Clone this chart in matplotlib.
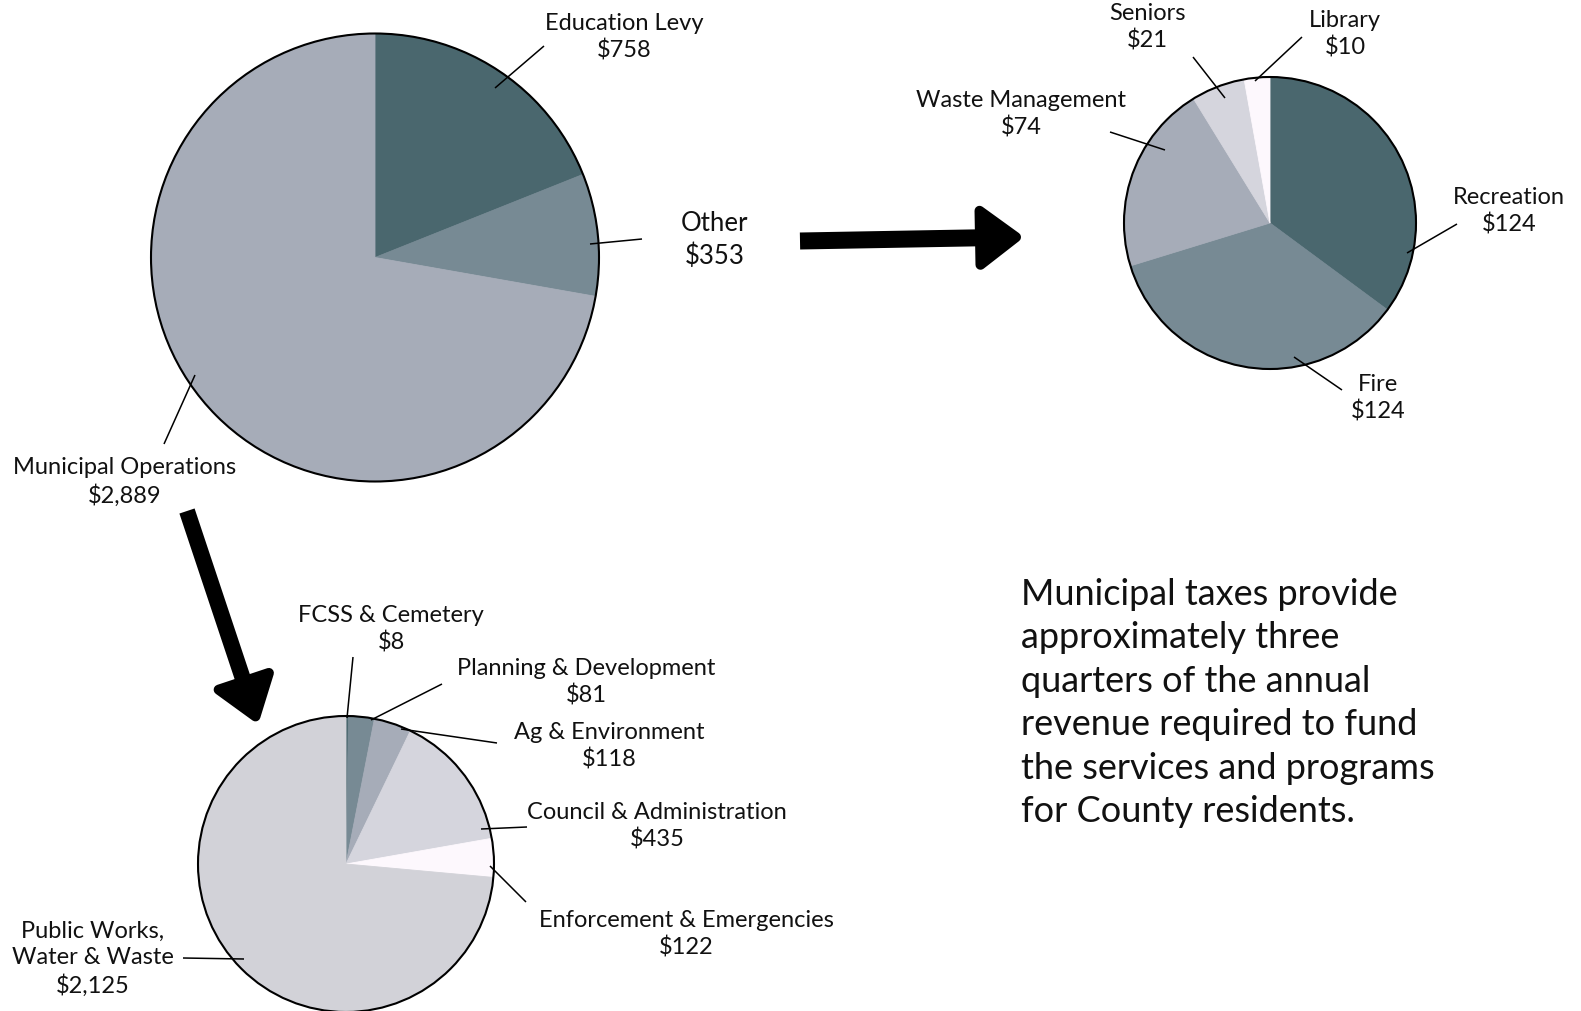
import matplotlib
matplotlib.use("Agg")
import matplotlib.pyplot as plt
from matplotlib.patches import Circle, Polygon
import numpy as np

W, H = 1581, 1011
FONT = ["Lato", "DejaVu Sans"]

# ---------------- data ----------------
main_labels = ["Education Levy", "Other", "Municipal Operations"]
main_values = [758, 353, 2889]

other_labels = ["Recreation", "Fire", "Waste Management", "Seniors", "Library"]
other_values = [124, 124, 74, 21, 10]

muni_labels = ["FCSS & Cemetery", "Planning & Development", "Ag & Environment",
               "Council & Administration", "Enforcement & Emergencies",
               "Public Works,\nWater & Waste"]
muni_values = [8, 81, 118, 435, 122, 2125]

note_text = ("Municipal taxes provide\napproximately three\nquarters of the annual\n"
             "revenue required to fund\nthe services and programs\nfor County residents.")

DARK, MID, LIGHT, LIGHTER, WHITE, PALE = "#4a676e", "#778a94", "#a6acb8", "#d5d5dd", "#fdf8fd", "#d2d2d8"
main_colors = [DARK, MID, LIGHT]
other_colors = [DARK, MID, LIGHT, LIGHTER, WHITE]
muni_colors = [DARK, MID, LIGHT, LIGHTER, WHITE, PALE]

fig = plt.figure(figsize=(W / 100, H / 100), dpi=100)
ax = fig.add_axes([0, 0, 1, 1])
ax.set_axis_off()


def Y(y):
    return H - y


def money(v):
    return "${:,}".format(v)


def draw_pie(values, colors, cx, cy, r):
    wedges, _ = ax.pie(values, colors=colors, startangle=90, counterclock=False,
                       center=(cx, Y(cy)), radius=r,
                       wedgeprops=dict(linewidth=0.6))
    for w in wedges:
        w.set_edgecolor(w.get_facecolor())
    ax.add_patch(Circle((cx, Y(cy)), r, fill=False, edgecolor="black", linewidth=1.5, zorder=5))


def label(text, x, y, size=17, ls=1.3):
    ax.text(x, Y(y), text, ha="center", va="center", multialignment="center",
            fontsize=size, family=FONT, color="#111111", linespacing=ls, zorder=6)


def leader(x1, y1, x2, y2):
    ax.plot([x1, x2], [Y(y1), Y(y2)], color="black", linewidth=1.1, solid_capstyle="butt", zorder=7)


def arrow(x0, y0, xt, yt, shaft_w, head_w, head_l):
    p0 = np.array([x0, Y(y0)], float)
    pt = np.array([xt, Y(yt)], float)
    d = pt - p0
    L = np.hypot(*d)
    u = d / L
    n = np.array([-u[1], u[0]])
    base = pt - u * head_l
    ax.plot([p0[0], base[0] + u[0] * 4], [p0[1], base[1] + u[1] * 4], color="black",
            linewidth=shaft_w * 0.72, solid_capstyle="butt", zorder=8)
    inset = 5
    tri = np.array([pt - u * inset * 1.6,
                    base + n * (head_w / 2 - inset) + u * inset * 0.8,
                    base - n * (head_w / 2 - inset) + u * inset * 0.8])
    ax.add_patch(Polygon(tri, closed=True, facecolor="black", edgecolor="black",
                         linewidth=inset * 2 * 0.72, joinstyle="round", zorder=8))


# ---------------- pies ----------------
draw_pie(main_values, main_colors, 375, 257.5, 224)
draw_pie(other_values, other_colors, 1270, 223, 146)
draw_pie(muni_values, muni_colors, 346, 864, 148)

# ---------------- main pie labels ----------------
label(f"{main_labels[0]}\n{money(main_values[0])}", 624, 37)
leader(544, 46, 495, 88)
label(f"{main_labels[1]}\n{money(main_values[1])}", 715, 240, size=18.5, ls=1.32)
leader(642, 239, 590, 244)
label(f"{main_labels[2]}\n{money(main_values[2])}", 125, 482)
leader(164, 444, 195, 375)

# ---------------- other pie labels ----------------
label(f"{other_labels[3]}\n{money(other_values[3])}", 1147, 27)
leader(1193, 57, 1225, 98)
label(f"{other_labels[4]}\n{money(other_values[4])}", 1345, 34)
leader(1302, 37, 1255, 81)
label(f"{other_labels[2]}\n{money(other_values[2])}", 1021, 114.5)
leader(1110, 132, 1165, 150)
label(f"{other_labels[0]}\n{money(other_values[0])}", 1509, 211.5)
leader(1457, 224, 1407, 253)
label(f"{other_labels[1]}\n{money(other_values[1])}", 1378, 398.5)
leader(1342, 390, 1294, 357)

# ---------------- municipal pie labels ----------------
label(f"{muni_labels[0]}\n{money(muni_values[0])}", 391, 629)
leader(353, 657, 347, 718)
label(f"{muni_labels[1]}\n{money(muni_values[1])}", 586, 682)
leader(442, 684, 371, 720)
label(f"{muni_labels[2]}\n{money(muni_values[2])}", 609, 746)
leader(497, 743, 401, 729)
label(f"{muni_labels[3]}\n{money(muni_values[3])}", 657, 826)
leader(527, 827, 481, 829)
label(f"{muni_labels[4]}\n{money(muni_values[4])}", 686, 934)
leader(526, 902, 490, 866)
label(f"{muni_labels[5]}\n{money(muni_values[5])}", 93, 959)
leader(183, 958, 244, 959)

# ---------------- arrows ----------------
arrow(800, 241, 1024, 237, 17, 64, 48)
arrow(187, 511, 258, 724, 16, 63, 49)

# ---------------- note ----------------
ax.text(1021, Y(703), note_text, ha="left", va="center", multialignment="left",
        fontsize=26, family=FONT, color="#111111", linespacing=1.39)

ax.set_xlim(0, W)
ax.set_ylim(0, H)
ax.set_aspect("equal")
fig.savefig("out.png", dpi=100, facecolor="white")
